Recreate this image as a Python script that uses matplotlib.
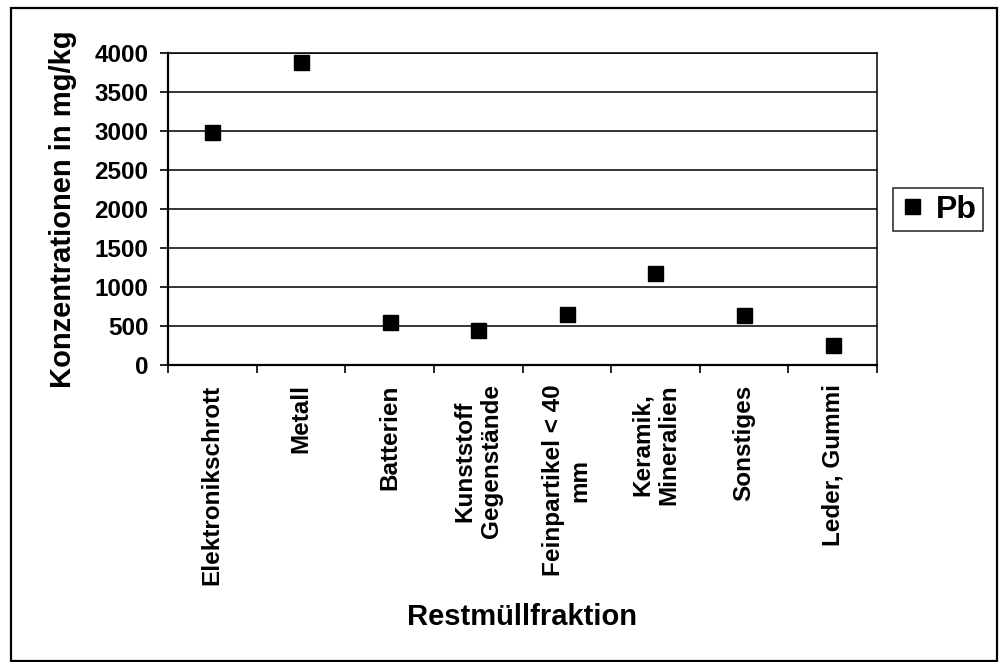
import numpy as np
import matplotlib.pyplot as plt
from matplotlib.patches import Rectangle

plt.rcParams["font.family"] = ["Liberation Sans", "DejaVu Sans"]
plt.rcParams["font.weight"] = "bold"

# Restmüllfraktionen und Pb-Konzentrationen (mg/kg)
categories = [
    "Elektronikschrott",
    "Metall",
    "Batterien",
    "Kunststoff\nGegenstände",
    "Feinpartikel < 40\nmm",
    "Keramik,\nMineralien",
    "Sonstiges",
    "Leder, Gummi",
]
pb_values = [2985, 3885, 555, 448, 655, 1185, 638, 260]
y_ticks = [0, 500, 1000, 1500, 2000, 2500, 3000, 3500, 4000]

fig = plt.figure(figsize=(9.99, 6.62), dpi=100)
ax = fig.add_axes([0.1682, 0.4486, 0.7097, 0.4709])

x = np.arange(len(categories))
ax.plot(x, pb_values, linestyle="none", marker="s", markersize=10.8,
        color="black", label="Pb")

# Achsen
ax.set_xlim(-0.5, len(categories) - 0.5)
ax.set_ylim(0, 4000)
ax.set_yticks(y_ticks)
ax.set_yticklabels([str(v) for v in y_ticks], fontsize=17.5, fontweight="bold")
ax.set_xticks(np.arange(-0.5, len(categories)))
ax.set_xticklabels([])
ax.set_xticks(x, minor=True)
ax.set_xticklabels(categories, minor=True, rotation=90, fontsize=17.5,
                   fontweight="bold", va="top", ha="center",
                   multialignment="center")
ax.tick_params(axis="x", which="major", length=6, width=1.2, direction="out")
ax.tick_params(axis="x", which="minor", length=0, pad=14)
ax.tick_params(axis="y", length=6, width=1.2, direction="out", pad=8)

ax.yaxis.grid(True, color="black", linewidth=1.1)
ax.set_axisbelow(True)
for side in ["top", "right"]:
    ax.spines[side].set_linewidth(1.1)
for side in ["left", "bottom"]:
    ax.spines[side].set_linewidth(1.6)

ax.set_ylabel("Konzentrationen in mg/kg", fontsize=21, fontweight="bold",
              labelpad=13)
fig.text(0.5225, 1 - 617 / 662, "Restmüllfraktion", fontsize=21,
         fontweight="bold", ha="center", va="center")

leg = ax.legend(loc="center left", bbox_to_anchor=(892.7 / 999, 1 - 209.5 / 662),
                bbox_transform=fig.transFigure, prop={"size": 23, "weight": "bold"},
                frameon=True, fancybox=False, borderpad=0.2, handlelength=0.8,
                handletextpad=0.35, borderaxespad=0)
leg.get_frame().set_edgecolor("black")
leg.get_frame().set_linewidth(1.2)

# Rahmen um die ganze Grafik
fig.patches.append(Rectangle((11 / 999, 1 / 662), 986 / 999, 653 / 662,
                             transform=fig.transFigure, fill=False,
                             edgecolor="black", linewidth=1.6))

fig.savefig("out.png", dpi=100)
